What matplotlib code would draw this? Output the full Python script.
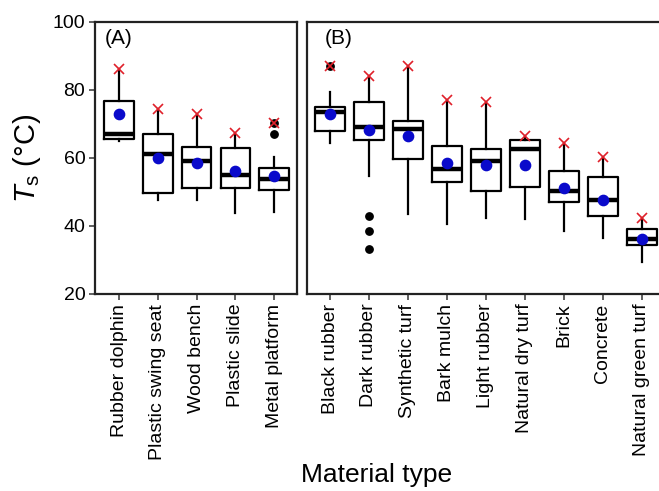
import matplotlib
matplotlib.use('Agg')
from matplotlib import pyplot as plt

plt.rcParams['font.family'] = ['Liberation Sans', 'DejaVu Sans']
plt.rcParams['mathtext.fontset'] = 'custom'
plt.rcParams['mathtext.it'] = 'Liberation Sans:italic'
plt.rcParams['mathtext.rm'] = 'Liberation Sans'

# Panel A: playground equipment
names_a = ['Rubber dolphin', 'Plastic swing seat', 'Wood bench', 'Plastic slide', 'Metal platform']
q1_a = [65.7, 49.7, 51.1, 51.1, 50.7]
med_a = [67.0, 61.2, 59.0, 55.1, 53.8]
q3_a = [76.9, 67.1, 63.2, 62.8, 57.1]
lo_a = [65.0, 47.5, 47.5, 43.9, 44.1]
hi_a = [86.3, 74.3, 73.0, 67.3, 60.4]
mean_a = [72.8, 60.0, 58.5, 56.3, 54.8]
max_a = [86.3, 74.3, 73.0, 67.3, 70.4]
out_a = [[], [], [], [], [67.1, 70.4]]

# Panel B: ground surfaces
names_b = ['Black rubber', 'Dark rubber', 'Synthetic turf', 'Bark mulch', 'Light rubber',
           'Natural dry turf', 'Brick', 'Concrete', 'Natural green turf']
q1_b = [67.9, 65.3, 59.6, 52.8, 50.3, 51.6, 47.2, 43.0, 34.3]
med_b = [73.6, 69.0, 68.6, 56.9, 59.1, 62.5, 50.3, 47.6, 36.1]
q3_b = [75.1, 76.4, 71.0, 63.5, 62.7, 65.2, 56.2, 54.5, 39.1]
lo_b = [64.4, 54.7, 43.4, 40.6, 42.4, 42.0, 38.5, 36.4, 29.3]
hi_b = [79.5, 84.2, 87.2, 77.2, 76.4, 66.6, 64.5, 60.3, 42.4]
mean_b = [72.8, 68.2, 66.4, 58.5, 57.9, 57.8, 51.3, 47.7, 36.3]
max_b = [87.2, 84.2, 87.2, 77.2, 76.4, 66.6, 64.5, 60.3, 42.4]
out_b = [[87.2], [43.0, 38.4, 33.2], [], [], [], [], [], [], []]


def draw_panel(ax, names, q1, med, q3, lo, hi, mean, mx, outl, tag):
    stats = []
    for i in range(len(names)):
        stats.append(dict(q1=q1[i], med=med[i], q3=q3[i], whislo=lo[i], whishi=hi[i],
                          fliers=outl[i], label=names[i]))
    pos = list(range(1, len(names) + 1))
    ax.bxp(stats, positions=pos, widths=0.76, showcaps=False,
           boxprops=dict(color='black', linewidth=1.6),
           whiskerprops=dict(color='black', linewidth=1.6),
           medianprops=dict(color='black', linewidth=3.2),
           flierprops=dict(marker='o', markerfacecolor='black', markeredgecolor='black',
                           markersize=5.3))
    ax.plot(pos, mean, 'o', color='#0a0acb', markersize=7.4, zorder=5)
    ax.plot(pos, mx, 'x', color='#e0202a', markersize=6.8, markeredgewidth=1.2, zorder=6)
    ax.set_ylim(20, 100)
    ax.set_xticks(pos)
    ax.set_xticklabels(names, rotation=90, fontsize=14)
    ax.tick_params(direction='out', length=4, width=1.2, color='#444444', pad=3)
    for s in ax.spines.values():
        s.set_linewidth(1.6)
        s.set_color('#222222')
    ax.text(0.05, 0.975, tag, transform=ax.transAxes, ha='left', va='top', fontsize=15)


fig = plt.figure(figsize=(6.59, 4.91), dpi=100)
ax1 = fig.add_axes([95 / 659, 197 / 491, 202 / 659, 272 / 491])
ax2 = fig.add_axes([307 / 659, 197 / 491, 354 / 659, 272 / 491])

draw_panel(ax1, names_a, q1_a, med_a, q3_a, lo_a, hi_a, mean_a, max_a, out_a, '(A)')
draw_panel(ax2, names_b, q1_b, med_b, q3_b, lo_b, hi_b, mean_b, max_b, out_b, '(B)')

ax1.set_xlim(0.38, 5.59)
ax2.set_xlim(0.41, 9.49)
ax1.set_yticks([20, 40, 60, 80, 100])
ax1.tick_params(axis='y', labelsize=14)
ax2.set_yticks([])

ax1.set_ylabel(r'$T_{\rm s}$ (°C)', fontsize=21, labelpad=7)
fig.text(377 / 659, 0.033, 'Material type', ha='center', va='center', fontsize=19)

plt.savefig('out.png', dpi=100)
